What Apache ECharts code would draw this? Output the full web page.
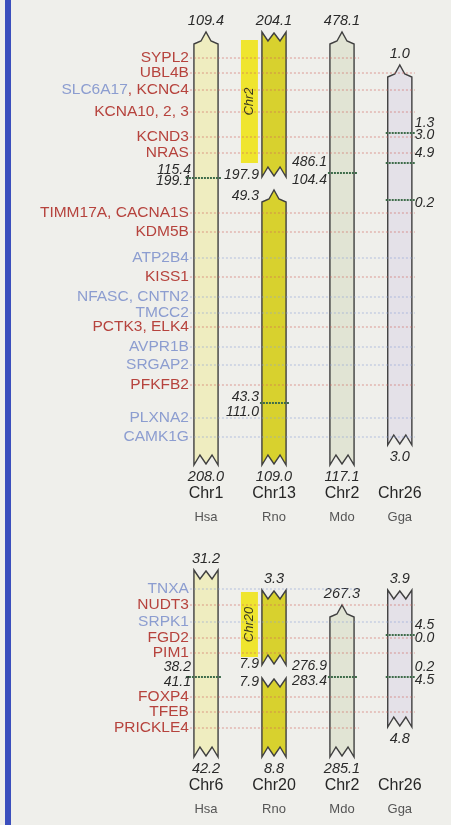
<!DOCTYPE html>
<html>
<head>
<meta charset="utf-8">
<script src="https://cdn.jsdelivr.net/npm/echarts@6/dist/echarts.min.js"></script>
<style>
  html, body { margin: 0; padding: 0; background: #efefeb; }
  #chart { width: 451px; height: 825px; }
</style>
</head>
<body>
<div id="chart"></div>
<script>
// ---- Species tracks (columns) ----
const species = ['Hsa', 'Rno', 'Mdo', 'Gga'];

// ---- Upper block: human Chr1 region ----
const upperChroms = ['Chr1', 'Chr13', 'Chr2', 'Chr26'];
const upperGeneLabels = ['SYPL2', 'UBL4B', 'SLC6A17|, KCNC4', 'KCNA10, 2, 3', 'KCND3', 'NRAS',
  'TIMM17A, CACNA1S', 'KDM5B', 'ATP2B4', 'KISS1', 'NFASC, CNTN2', 'TMCC2', 'PCTK3, ELK4',
  'AVPR1B', 'SRGAP2', 'PFKFB2', 'PLXNA2', 'CAMK1G'];
const upperGeneGroups = ['r', 'r', 'b|r', 'r', 'r', 'r', 'r', 'r', 'b', 'r', 'b', 'b', 'r',
  'b', 'b', 'r', 'b', 'b'];
const upperGenePos = [11.6, 14.6, 18.0, 22.4, 27.4, 30.6, 42.6, 46.4, 51.6, 55.4, 59.4, 62.6,
  65.4, 69.4, 73.0, 77.0, 83.6, 87.4];
// [track, start, end, top end, bottom end, top value, bottom value]
const upperSegments = [
  [0, 6.4, 93.0, 'peak', 'zig', '109.4', '208.0'],
  [1, 6.4, 35.4, 'zig', 'zig', '204.1', ''],
  [1, 38.0, 93.0, 'peak', 'zig', '', '109.0'],
  [2, 6.4, 93.0, 'peak', 'zig', '478.1', '117.1'],
  [3, 13.0, 89.0, 'peak', 'zig', '1.0', '3.0']
];
// [track, position, text, side]
const upperNotes = [
  [0, 34.0, '115.4', 'left'], [0, 36.2, '199.1', 'left'],
  [1, 35.0, '197.9', 'left'], [1, 39.2, '49.3', 'left'],
  [1, 79.4, '43.3', 'left'], [1, 82.4, '111.0', 'left'],
  [2, 32.4, '486.1', 'left'], [2, 36.0, '104.4', 'left'],
  [3, 24.6, '1.3', 'right'], [3, 27.0, '3.0', 'right'],
  [3, 30.6, '4.9', 'right'], [3, 40.6, '0.2', 'right']
];
// [track, position]
const upperMarkers = [[0, 35.6], [1, 80.6], [2, 34.6], [3, 26.6], [3, 32.6], [3, 40.0]];
// [track, start, end, label]
const upperInset = [1, 8.0, 32.6, 'Chr2'];

// ---- Lower block: human Chr6 region ----
const lowerChroms = ['Chr6', 'Chr20', 'Chr2', 'Chr26'];
const lowerGeneLabels = ['TNXA', 'NUDT3', 'SRPK1', 'FGD2', 'PIM1', 'FOXP4', 'TFEB', 'PRICKLE4'];
const lowerGeneGroups = ['b', 'r', 'b', 'r', 'r', 'r', 'r', 'r'];
const lowerGenePos = [9.8, 13.0, 16.4, 19.6, 22.6, 31.4, 34.4, 37.6];
const lowerSegments = [
  [0, 6.0, 43.4, 'zig', 'zig', '31.2', '42.2'],
  [1, 10.0, 25.0, 'zig', 'zig', '3.3', ''],
  [1, 27.6, 43.4, 'zig', 'zig', '', '8.8'],
  [2, 13.0, 43.4, 'peak', 'zig', '267.3', '285.1'],
  [3, 10.0, 37.4, 'zig', 'zig', '3.9', '4.8']
];
const lowerNotes = [
  [0, 25.4, '38.2', 'left'], [0, 28.4, '41.1', 'left'],
  [1, 24.8, '7.9', 'left'], [1, 28.4, '7.9', 'left'],
  [2, 25.2, '276.9', 'left'], [2, 28.2, '283.4', 'left'],
  [3, 17.0, '4.5', 'right'], [3, 19.6, '0.0', 'right'],
  [3, 25.4, '0.2', 'right'], [3, 28.0, '4.5', 'right']
];
const lowerMarkers = [[0, 27.4], [2, 27.4], [3, 19.0], [3, 27.4]];
const lowerInset = [1, 10.4, 23.4, 'Chr20'];

// ---- Drawing constants ----
const TRACK_X = [0, 1, 2, 2.85];
const BAR_W = 0.355;
const FILLS = ['#efedc0', '#d8d12e', '#e1e4d4', '#e4e1e8'];
const OUTLINE = '#404040';
const TEXT_COLORS = { r: '#b6433d', b: '#8c9dd0' };
const LINE_COLORS = { r: 'rgba(206,96,92,0.6)', b: 'rgba(140,160,214,0.6)' };
const MARKER = '#3e6c4a';
const INSET_FILL = '#efe52e';
const FONT = '"Liberation Sans", Arial, sans-serif';

function barEdges(api, track, pos) {
  const c = api.coord([TRACK_X[track], pos]);
  const w = api.size([BAR_W, 0])[0];
  return { xc: c[0], xl: c[0] - w / 2, xr: c[0] + w / 2, y: c[1], w: w };
}

function segmentCovers(segments, track, pos) {
  return segments.some(s => s[0] === track && pos >= s[1] && pos <= s[2]);
}

function buildPanel(gi, chroms, labels, groups, positions, segments, notes, markers, inset) {
  const base = { type: 'custom', xAxisIndex: gi, yAxisIndex: gi, clip: false, silent: true };
  const maxEnd = Math.max(...segments.map(s => s[2]));

  // dotted connector lines from each gene across the tracks
  const geneLines = Object.assign({}, base, {
    z: 3,
    data: positions.map((p, i) => [i]),
    renderItem: (params, api) => {
      const i = params.dataIndex;
      const pos = positions[i];
      const grp = groups[i].split('|').pop();
      const hsa = barEdges(api, 0, pos);
      const far = segmentCovers(segments, 3, pos)
        ? barEdges(api, 3, pos).xr + 3
        : barEdges(api, 2, pos).xr + 5;
      return {
        type: 'line',
        shape: { x1: hsa.xl - 4, y1: hsa.y, x2: far, y2: hsa.y },
        style: { stroke: LINE_COLORS[grp], lineWidth: 1, lineDash: [2, 2] }
      };
    }
  });

  // chromosome segments with broken/telomeric ends
  const bars = Object.assign({}, base, {
    z: 2,
    data: segments.map((s, i) => [i]),
    renderItem: (params, api) => {
      const [t, s, e, topKind, botKind, topVal, botVal] = segments[params.dataIndex];
      const a = barEdges(api, t, s);
      const b = barEdges(api, t, e);
      const { xl, xr, xc, w } = a;
      const yt = a.y, yb = b.y;
      const pts = [];
      if (topKind === 'peak') {
        pts.push([xl, yt + 12], [xc - 5, yt + 9], [xc, yt], [xc + 5, yt + 9], [xr, yt + 12]);
      } else {
        pts.push([xl, yt], [xl + w * 0.25, yt + 9], [xc, yt + 1], [xr - w * 0.25, yt + 9], [xr, yt]);
      }
      pts.push([xr, yb], [xr - w * 0.25, yb - 10], [xc, yb - 1], [xl + w * 0.25, yb - 10], [xl, yb]);
      const children = [{
        type: 'polygon',
        shape: { points: pts },
        style: { fill: FILLS[t], stroke: OUTLINE, lineWidth: 1.4, lineJoin: 'miter' }
      }];
      const valStyle = { fill: '#2a2a2a', fontSize: 14.5, fontStyle: 'italic', fontFamily: FONT,
        align: 'center', verticalAlign: 'middle' };
      if (topVal) children.push({ type: 'text', style: Object.assign({ text: topVal, x: xc, y: yt - 11 }, valStyle) });
      if (botVal) children.push({ type: 'text', style: Object.assign({ text: botVal, x: xc, y: yb + 12 }, valStyle) });
      return { type: 'group', children: children };
    }
  });

  // yellow inset box naming the partner chromosome
  const insetBox = Object.assign({}, base, {
    z: 2,
    data: [[0]],
    renderItem: (params, api) => {
      const [t, s, e, txt] = inset;
      const a = barEdges(api, t, s);
      const b = barEdges(api, t, e);
      const right = a.xl - 4, left = right - 17;
      return {
        type: 'group',
        children: [
          { type: 'rect', shape: { x: left, y: a.y, width: right - left, height: b.y - a.y },
            style: { fill: INSET_FILL } },
          { type: 'text', x: (left + right) / 2, y: (a.y + b.y) / 2, rotation: Math.PI / 2,
            style: { text: txt, fill: '#3a3a20', fontSize: 13, fontStyle: 'italic', fontFamily: FONT,
              align: 'center', verticalAlign: 'middle' } }
        ]
      };
    }
  });

  // dark dotted breakpoint markers
  const markerLines = Object.assign({}, base, {
    z: 4,
    data: markers.map((m, i) => [i]),
    renderItem: (params, api) => {
      const [t, pos] = markers[params.dataIndex];
      const e = barEdges(api, t, pos);
      return {
        type: 'line',
        shape: { x1: e.xl - (t === 0 ? 8 : 2), y1: e.y, x2: e.xr + 3, y2: e.y },
        style: { stroke: MARKER, lineWidth: 2.2, lineDash: [2, 1] }
      };
    }
  });

  // gene names, right-aligned against the human chromosome
  const geneText = Object.assign({}, base, {
    z: 5,
    data: positions.map((p, i) => [i]),
    renderItem: (params, api) => {
      const i = params.dataIndex;
      const e = barEdges(api, 0, positions[i]);
      const parts = labels[i].split('|');
      const grps = groups[i].split('|');
      const rich = {};
      let text = '';
      parts.forEach((p, k) => {
        rich['g' + k] = { fill: TEXT_COLORS[grps[k]], fontSize: 15.5, fontFamily: FONT };
        text += '{g' + k + '|' + p + '}';
      });
      return {
        type: 'text',
        style: { text: text, rich: rich, x: e.xl - 5, y: e.y, align: 'right', verticalAlign: 'middle',
          fontSize: 15.5, fontFamily: FONT }
      };
    }
  });

  // coordinate notes beside breakpoints
  const noteText = Object.assign({}, base, {
    z: 5,
    data: notes.map((n, i) => [i]),
    renderItem: (params, api) => {
      const [t, pos, txt, side] = notes[params.dataIndex];
      const e = barEdges(api, t, pos);
      return {
        type: 'text',
        style: { text: txt, x: side === 'left' ? e.xl - 3 : e.xr + 3, y: e.y,
          align: side === 'left' ? 'right' : 'left', verticalAlign: 'middle',
          fill: '#2a2a2a', fontSize: 14, fontStyle: 'italic', fontFamily: FONT }
      };
    }
  });

  // chromosome and species captions below each track
  const captions = Object.assign({}, base, {
    z: 5,
    data: species.map((s, i) => [i]),
    renderItem: (params, api) => {
      const t = params.dataIndex;
      const e = barEdges(api, t, maxEnd);
      return {
        type: 'group',
        children: [
          { type: 'text', style: { text: chroms[t], x: e.xc, y: e.y + 29, align: 'center',
            verticalAlign: 'middle', fill: '#262626', fontSize: 16, fontFamily: FONT } },
          { type: 'text', style: { text: species[t], x: e.xc, y: e.y + 52, align: 'center',
            verticalAlign: 'middle', fill: '#555555', fontSize: 13, fontFamily: FONT } }
        ]
      };
    }
  });

  return [bars, insetBox, geneLines, markerLines, geneText, noteText, captions];
}

const chart = echarts.init(document.getElementById('chart'), null, { renderer: 'canvas' });
chart.setOption({
  backgroundColor: '#efefeb',
  animation: false,
  graphic: [{ type: 'rect', shape: { x: 5, y: 0, width: 6, height: 825 }, style: { fill: '#3b4fbd' } }],
  grid: [
    { left: 172, width: 272, top: 0, height: 525 },
    { left: 172, width: 272, top: 540, height: 285 }
  ],
  xAxis: [
    { gridIndex: 0, type: 'value', min: -0.5, max: 3.5, show: false },
    { gridIndex: 1, type: 'value', min: -0.5, max: 3.5, show: false }
  ],
  yAxis: [
    { gridIndex: 0, type: 'value', min: 0, max: 105, inverse: true, show: false },
    { gridIndex: 1, type: 'value', min: 0, max: 57, inverse: true, show: false }
  ],
  series: [].concat(
    buildPanel(0, upperChroms, upperGeneLabels, upperGeneGroups, upperGenePos,
      upperSegments, upperNotes, upperMarkers, upperInset),
    buildPanel(1, lowerChroms, lowerGeneLabels, lowerGeneGroups, lowerGenePos,
      lowerSegments, lowerNotes, lowerMarkers, lowerInset)
  )
});
</script>
</body>
</html>
